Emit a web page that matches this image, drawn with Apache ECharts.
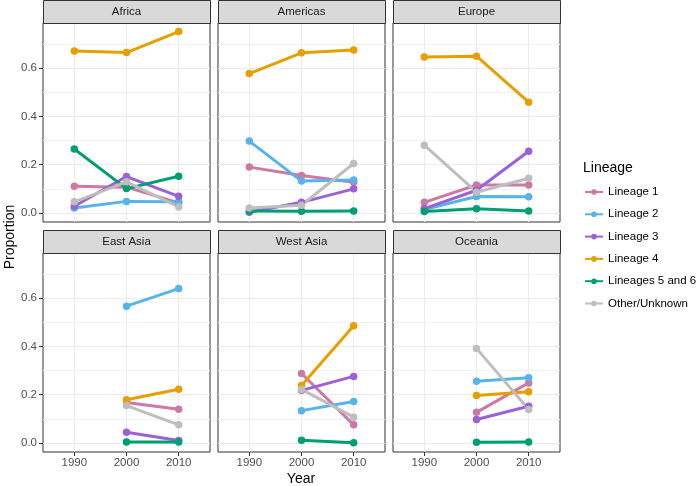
<!DOCTYPE html>
<html>
<head>
<meta charset="utf-8">
<script src="https://cdn.jsdelivr.net/npm/echarts@6.0.0/dist/echarts.min.js"></script>
<style>
  html, body { margin: 0; padding: 0; background: #fff; }
  #main { width: 697px; height: 486px; }
</style>
</head>
<body>
<div id="main"></div>
<script>
var years = [1990, 2000, 2010]
var regions = ['Africa', 'Americas', 'Europe', 'East Asia', 'West Asia', 'Oceania']
var lineages = ['Lineage 1', 'Lineage 2', 'Lineage 3', 'Lineage 4', 'Lineages 5 and 6', 'Other/Unknown']
var colors = ['#CC79A7', '#56B4E9', '#9B61D6', '#E69F00', '#009E73', '#BEBEBE']
var yTicks = [0, 0.2, 0.4, 0.6]
var yMinorTicks = [0.1, 0.3, 0.5, 0.7]

// one row per lineage (same order as lineages), columns = 1990, 2000, 2010
var africa = [
  [0.111, 0.107, 0.042],
  [0.021, 0.048, 0.046],
  [0.028, 0.151, 0.069],
  [0.671, 0.665, 0.752],
  [0.265, 0.101, 0.152],
  [0.046, 0.129, 0.025]
]
var americas = [
  [0.190, 0.155, 0.127],
  [0.298, 0.132, 0.137],
  [0.003, 0.044, 0.100],
  [0.578, 0.664, 0.676],
  [0.008, 0.007, 0.008],
  [0.021, 0.032, 0.205]
]
var europe = [
  [0.044, 0.116, 0.116],
  [0.014, 0.068, 0.067],
  [0.018, 0.094, 0.256],
  [0.647, 0.650, 0.459],
  [0.006, 0.017, 0.008],
  [0.281, 0.086, 0.144]
]
var eastAsia = [
  [null, 0.168, 0.140],
  [null, 0.567, 0.640],
  [null, 0.044, 0.010],
  [null, 0.179, 0.223],
  [null, 0.004, 0.004],
  [null, 0.155, 0.075]
]
var westAsia = [
  [null, 0.288, 0.075],
  [null, 0.134, 0.172],
  [null, 0.218, 0.276],
  [null, 0.238, 0.486],
  [null, 0.011, 0.001],
  [null, 0.222, 0.107]
]
var oceania = [
  [null, 0.127, 0.249],
  [null, 0.256, 0.270],
  [null, 0.097, 0.152],
  [null, 0.197, 0.212],
  [null, 0.003, 0.004],
  [null, 0.392, 0.139]
]
var regionData = [africa, americas, europe, eastAsia, westAsia, oceania]

var FONT = '"Liberation Sans", Arial, sans-serif'
var colLeft = [43, 218, 393]
var rowTop = [23, 253]
var panelW = 167
var panelH = 199
var stripH = 23

var grids = []
var xAxes = []
var yAxes = []
var series = []
var graphics = []

regions.forEach(function(name, i) {
  var col = i % 3
  var row = Math.floor(i / 3)
  grids.push({
    left: colLeft[col], top: rowTop[row], width: panelW, height: panelH,
    show: true, backgroundColor: '#fff', borderColor: '#333', borderWidth: 1
  })
  xAxes.push({
    type: 'value', gridIndex: i, min: 1984, max: 2016,
    axisLine: { show: false, onZero: false },
    axisTick: { show: row === 1, customValues: years, length: 4, lineStyle: { color: '#333' } },
    axisLabel: {
      show: row === 1, customValues: years, color: '#4d4d4d', fontSize: 11.5, fontFamily: FONT, margin: 5,
      formatter: function(v) { return String(v) }
    },
    splitLine: { show: true, lineStyle: { color: '#ebebeb', width: 1 } }
  })
  yAxes.push({
    type: 'value', gridIndex: i, min: -0.0375, max: 0.7875,
    axisLine: { show: false, onZero: false },
    axisTick: { show: col === 0, customValues: yTicks, length: 4, lineStyle: { color: '#333' } },
    axisLabel: {
      show: col === 0, customValues: yTicks, color: '#4d4d4d', fontSize: 11.5, fontFamily: FONT, margin: 6,
      formatter: function(v) { return v.toFixed(1) }
    },
    splitLine: { show: true, lineStyle: { color: '#ebebeb', width: 1 } }
  })
  // strip header
  graphics.push({
    type: 'rect', left: colLeft[col], top: rowTop[row] - stripH, z: 10,
    shape: { width: panelW, height: stripH },
    style: { fill: '#d9d9d9', stroke: '#333', lineWidth: 1 }
  })
  graphics.push({
    type: 'text', z: 11,
    x: colLeft[col] + panelW / 2, y: rowTop[row] - stripH / 2,
    style: { text: name, fill: '#1a1a1a', font: '11.5px ' + FONT, textAlign: 'center', textVerticalAlign: 'middle' }
  })
})

// minor grid lines, one extra hidden y axis per panel
regions.forEach(function(name, i) {
  yAxes.push({
    type: 'value', gridIndex: i, min: -0.0375, max: 0.7875, position: 'left',
    axisLine: { show: false, onZero: false },
    axisTick: { show: false, customValues: yMinorTicks },
    axisLabel: { show: false, customValues: yMinorTicks },
    splitLine: { show: true, lineStyle: { color: '#f2f2f2', width: 1 } }
  })
})

regionData.forEach(function(rows, i) {
  rows.forEach(function(vals, j) {
    var pts = []
    vals.forEach(function(v, k) {
      if (v !== null) pts.push([years[k], v])
    })
    series.push({
      name: lineages[j], type: 'line', xAxisIndex: i, yAxisIndex: i,
      data: pts, symbol: 'circle', symbolSize: 7.5, showSymbol: true,
      itemStyle: { color: colors[j] },
      lineStyle: { color: colors[j], width: 3 },
      emphasis: { disabled: true },
      animation: false
    })
  })
})

graphics.push({
  type: 'text', x: 10, y: 237, rotation: Math.PI / 2,
  style: { text: 'Proportion', fill: '#000', font: '14px ' + FONT, textAlign: 'center', textVerticalAlign: 'middle' }
})
graphics.push({
  type: 'text', x: 301, y: 479,
  style: { text: 'Year', fill: '#000', font: '14px ' + FONT, textAlign: 'center', textVerticalAlign: 'middle' }
})
graphics.push({
  type: 'text', x: 583, y: 168,
  style: { text: 'Lineage', fill: '#000', font: '14px ' + FONT, textAlign: 'left', textVerticalAlign: 'middle' }
})

var myChart = echarts.init(document.getElementById('main'))
var option = {
  animation: false,
  grid: grids,
  xAxis: xAxes,
  yAxis: yAxes,
  legend: {
    data: lineages, orient: 'vertical', left: 579, top: 181,
    itemWidth: 18, itemHeight: 7, itemGap: 10.3,
    textStyle: { color: '#000', fontSize: 11.5, fontFamily: FONT },
    selectedMode: false
  },
  graphic: graphics,
  series: series
}
myChart.setOption(option)
</script>
</body>
</html>
